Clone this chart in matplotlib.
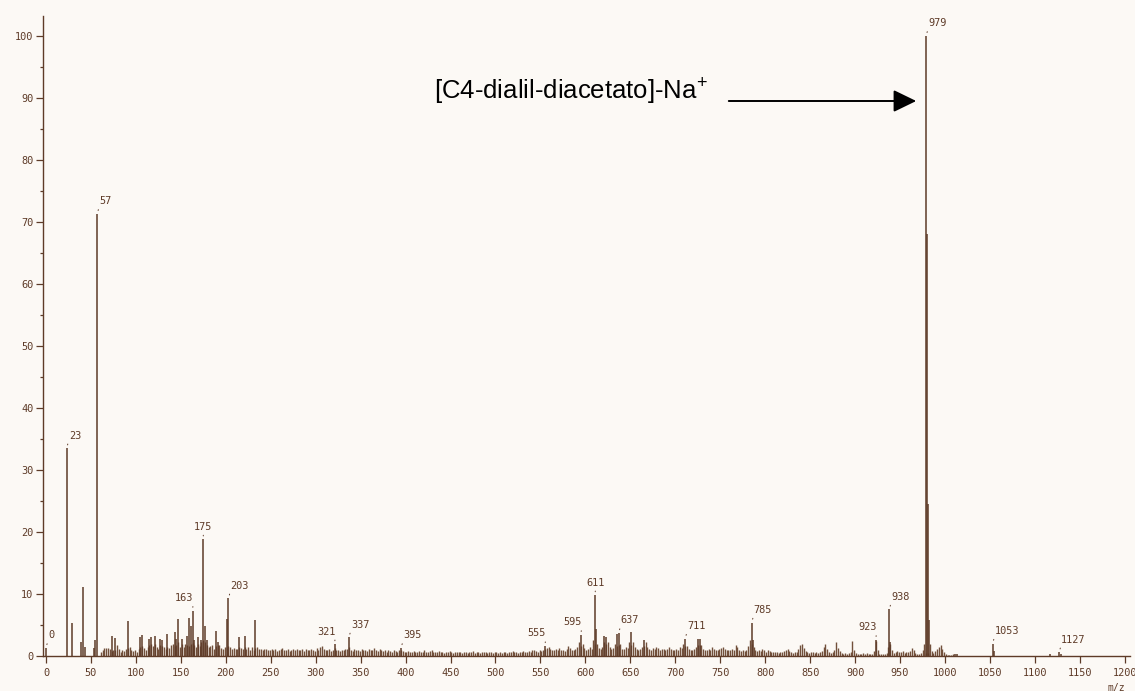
import matplotlib
matplotlib.use("Agg")
import matplotlib.pyplot as plt
import numpy as np
from matplotlib.patches import FancyArrowPatch

# ---------------- data ----------------
# main (labelled / prominent) peaks: m/z and relative intensity (%)
major_mz = [0, 23, 29, 39, 41, 43, 53, 55, 57, 73, 77, 91, 105, 107, 115, 117,
            121, 127, 129, 135, 143, 145, 147, 151, 157, 159, 161, 163, 165,
            169, 173, 175, 177, 179, 189, 191, 201, 203, 215, 221, 233, 321,
            337, 395, 555, 595, 611, 612, 621, 623, 635, 637, 651, 665, 711,
            725, 727, 785, 786, 923, 938, 939, 979, 980, 981, 982, 1011, 1013,
            1053, 1054, 1117, 1127, 1129]
major_int = [1.3, 33.5, 5.4, 2.2, 11.1, 1.5, 1.3, 2.6, 71.3, 3.3, 2.9, 5.6, 3.0,
             3.4, 2.8, 3.0, 3.3, 2.7, 2.5, 3.5, 3.8, 2.8, 5.9, 2.8, 3.3, 6.2,
             4.8, 7.3, 2.6, 3.0, 2.5, 18.8, 4.8, 2.6, 4.0, 2.3, 5.9, 9.3, 3.1,
             3.2, 5.8, 1.9, 3.0, 1.3, 1.6, 3.4, 9.8, 4.3, 3.3, 3.0, 3.6, 3.7,
             3.9, 2.6, 2.8, 2.7, 2.8, 5.4, 2.5, 2.6, 7.5, 2.2, 100.0, 68.0,
             24.5, 5.8, 0.3, 0.3, 2.0, 0.8, 0.3, 0.6, 0.3]

# background (noise-floor) peaks at odd m/z 61 .. 1009, read in blocks of 50 u
floor_61_109 = [0.6, 0.9, 1.3, 1.3, 1.3, 1.2, 0.8, 1.0, 0.9, 1.7, 1.2, 0.7, 1.0,
                0.8, 1.1, 1.3, 1.5, 1.0, 0.8, 0.9, 0.7, 1.2, 1.4, 1.6, 1.3]
floor_111_159 = [0.9, 1.5, 1.8, 2.0, 1.6, 1.9, 1.4, 1.2, 1.8, 1.6, 1.4, 1.2, 1.5,
                 1.3, 1.7, 2.0, 1.6, 1.8, 2.2, 1.5, 1.9, 1.4, 2.0, 1.8, 1.6]
floor_161_209 = [1.9, 2.1, 1.7, 1.5, 2.0, 1.6, 2.2, 2.5, 2.3, 1.8, 1.5, 1.6, 1.7,
                 1.2, 1.6, 1.8, 1.7, 1.3, 1.2, 1.4, 1.5, 1.6, 1.4, 1.2, 1.3]
floor_211_259 = [1.1, 1.2, 1.5, 1.3, 1.2, 1.4, 1.2, 1.4, 1.0, 1.5, 1.0, 1.3, 1.4,
                 1.1, 1.2, 0.9, 1.1, 1.2, 0.9, 1.0, 1.1, 0.9, 1.2, 0.8, 1.0]
floor_261_309 = [1.1, 1.3, 0.9, 1.0, 1.2, 0.8, 1.0, 1.1, 0.9, 1.2, 1.0, 0.9, 1.1,
                 0.8, 1.2, 1.0, 0.9, 1.1, 1.0, 0.8, 1.3, 0.9, 1.4, 1.6, 1.2]
floor_311_359 = [1.0, 0.9, 1.1, 0.8, 1.0, 1.3, 1.0, 0.9, 0.8, 1.0, 0.9, 1.1, 1.2,
                 1.4, 1.0, 0.8, 1.1, 0.9, 1.0, 0.8, 1.2, 0.9, 1.0, 0.8, 1.1]
floor_361_409 = [0.9, 1.0, 1.3, 1.0, 0.8, 1.2, 0.9, 0.8, 0.9, 0.7, 1.0, 0.8, 0.7,
                 0.9, 0.8, 0.7, 0.9, 1.0, 0.8, 0.7, 0.6, 0.8, 0.7, 0.6, 0.8]
floor_411_459 = [0.6, 0.7, 0.8, 0.6, 0.7, 0.9, 0.7, 0.6, 0.8, 0.9, 0.7, 0.6, 0.7,
                 0.8, 0.6, 0.7, 0.5, 0.7, 0.6, 0.8, 0.6, 0.5, 0.7, 0.6, 0.7]
floor_461_509 = [0.6, 0.5, 0.7, 0.6, 0.5, 0.7, 0.6, 0.8, 0.5, 0.6, 0.7, 0.5, 0.6,
                 0.7, 0.6, 0.5, 0.7, 0.6, 0.5, 0.6, 0.7, 0.5, 0.6, 0.5, 0.7]
floor_511_559 = [0.6, 0.5, 0.7, 0.6, 0.8, 0.6, 0.7, 0.5, 0.7, 0.6, 0.8, 0.7, 0.6,
                 0.8, 0.7, 1.0, 0.9, 0.8, 0.7, 0.9, 0.8, 1.0, 1.1, 1.3, 1.5]
floor_561_609 = [1.1, 0.9, 1.0, 1.2, 1.0, 1.3, 0.9, 1.0, 0.8, 1.1, 1.6, 1.3, 1.0,
                 0.9, 1.2, 1.5, 2.2, 1.6, 2.0, 1.3, 1.0, 1.1, 1.5, 1.2, 2.5]
floor_611_659 = [2.0, 2.0, 1.3, 1.1, 1.4, 2.2, 2.0, 2.2, 1.5, 1.2, 1.3, 2.0, 1.6,
                 1.8, 2.0, 1.2, 1.1, 1.5, 1.3, 2.3, 1.8, 2.3, 1.5, 1.2, 1.0]
floor_661_709 = [1.1, 1.4, 1.6, 2.3, 1.4, 1.2, 1.0, 1.3, 1.1, 1.5, 1.3, 1.0, 1.2,
                 1.1, 0.9, 1.1, 1.5, 1.2, 1.0, 0.9, 1.1, 1.0, 1.5, 1.3, 2.0]
floor_711_759 = [1.6, 1.6, 1.1, 1.0, 0.9, 1.2, 1.5, 1.8, 1.7, 1.7, 1.2, 1.0, 0.9,
                 1.1, 1.0, 1.5, 1.1, 0.9, 1.0, 1.2, 1.3, 1.5, 1.1, 0.9, 1.0]
floor_761_809 = [0.9, 1.2, 1.0, 1.7, 1.4, 1.0, 0.8, 0.9, 0.8, 1.0, 1.6, 2.5, 2.0,
                 1.5, 1.0, 0.8, 0.9, 0.8, 1.2, 1.0, 0.7, 0.9, 0.8, 0.6, 0.7]
floor_811_859 = [0.6, 0.7, 0.5, 0.6, 0.7, 0.8, 1.0, 1.1, 0.8, 0.6, 0.5, 0.6, 0.7,
                 1.2, 1.8, 2.0, 1.3, 0.8, 0.6, 0.5, 0.6, 0.7, 0.5, 0.6, 0.5]
floor_861_909 = [0.6, 0.8, 1.5, 2.0, 1.2, 0.7, 0.5, 0.6, 1.0, 2.2, 1.3, 0.8, 0.5,
                 0.4, 0.5, 0.4, 0.5, 0.6, 2.4, 1.0, 0.5, 0.4, 0.3, 0.4, 0.5]
floor_911_959 = [0.4, 0.5, 0.3, 0.4, 0.3, 0.8, 2.4, 0.9, 0.4, 0.3, 0.3, 0.4, 0.5,
                 1.5, 2.0, 1.0, 0.5, 0.6, 0.8, 0.7, 0.6, 0.8, 0.5, 0.6, 0.7]
floor_961_1009 = [0.8, 1.3, 0.9, 0.5, 0.4, 0.3, 0.5, 1.0, 2.0, 0.5, 0.5, 2.0, 0.8,
                  0.5, 0.8, 1.2, 1.5, 1.8, 1.2, 0.6, 0.3, 0.2, 0.2, 0.2, 0.3]

floor_int = (floor_61_109 + floor_111_159 + floor_161_209 + floor_211_259 +
             floor_261_309 + floor_311_359 + floor_361_409 + floor_411_459 +
             floor_461_509 + floor_511_559 + floor_561_609 + floor_611_659 +
             floor_661_709 + floor_711_759 + floor_761_809 + floor_811_859 +
             floor_861_909 + floor_911_959 + floor_961_1009)
floor_mz = list(range(61, 1010, 2))

# peak labels: text, m/z, intensity
label_text = ["0", "23", "57", "163", "175", "203", "321", "337", "395", "555",
              "595", "611", "637", "711", "785", "923", "938", "979", "1053", "1127"]
label_mz = [0, 23, 57, 163, 175, 203, 321, 337, 395, 555,
            595, 611, 637, 711, 785, 923, 938, 979, 1053, 1127]
label_int = [1.3, 33.5, 71.3, 7.3, 18.8, 9.3, 1.9, 3.0, 1.3, 1.6,
             3.4, 9.8, 3.7, 2.8, 5.4, 2.6, 7.5, 100.0, 2.0, 0.6]
label_side = ["r", "r", "r", "l", "c", "r", "l", "r", "r", "l",
              "l", "c", "r", "r", "r", "l", "r", "r", "r", "r"]

x_ticks = list(range(0, 1201, 50))
y_ticks = list(range(0, 101, 10))
annotation = "[C4-dialil-diacetato]-Na$^{+}$"

# ---------------- style ----------------
BG = "#fcf9f5"
INK = "#5e3b28"
INK_FLOOR = "#72503b"
MONO = "DejaVu Sans Mono"
plt.rcParams["mathtext.fontset"] = "custom"
plt.rcParams["mathtext.rm"] = "Liberation Sans"

W, H = 1135, 691
fig = plt.figure(figsize=(W / 100, H / 100), dpi=100, facecolor=BG)
ax = fig.add_axes([43 / W, 35 / H, 1087.2 / W, 640 / H])
ax.set_facecolor(BG)
ax.set_xlim(-3.3, 1206)
ax.set_ylim(0, 103.2)

ax.vlines(floor_mz, 0, floor_int, color=INK_FLOOR, lw=1.0)
ax.vlines(major_mz, 0, major_int, color=INK, lw=1.1)

for s in ["top", "right"]:
    ax.spines[s].set_visible(False)
for s in ["left", "bottom"]:
    ax.spines[s].set_color(INK)
    ax.spines[s].set_linewidth(1.0)

ax.set_xticks(x_ticks)
ax.set_xticklabels([str(v) for v in x_ticks])
ax.set_yticks(y_ticks)
ax.set_yticklabels([str(v) for v in y_ticks])
ax.set_yticks(list(range(5, 101, 10)), minor=True)
ax.tick_params(axis="x", direction="out", length=5, width=0.9, pad=3.5,
               colors=INK, labelsize=7.4)
ax.tick_params(axis="y", which="major", direction="out", length=5, width=0.9,
               pad=2, colors=INK, labelsize=7.4)
ax.tick_params(axis="y", which="minor", direction="out", length=2.5, width=0.9,
               colors=INK)
for lab in ax.get_xticklabels() + ax.get_yticklabels():
    lab.set_fontfamily(MONO)

for t, mz, h, side in zip(label_text, label_mz, label_int, label_side):
    if side == "r":
        off, ha, rp = (1.5, 5.5), "left", (0.0, 0.0)
    elif side == "l":
        off, ha, rp = (0.5, 5.5), "right", (1.0, 0.0)
    else:
        off, ha, rp = (0.0, 5.5), "center", (0.5, 0.0)
    ax.annotate(t, xy=(mz, h), xytext=off, textcoords="offset points",
                ha=ha, va="bottom", fontsize=7.4, family=MONO, color=INK,
                arrowprops=dict(arrowstyle="-", color=INK, lw=0.7,
                                shrinkA=0.5, shrinkB=2.5, relpos=rp))

fig.text(1108 / W, 1 - 688 / H, "m/z", fontsize=7, family=MONO, color=INK,
         va="center", ha="left")

fig.text(433.5 / W, 1 - 99 / H, annotation, fontsize=18.5,
         family="Liberation Sans", color="black", va="baseline", ha="left")
arrow = FancyArrowPatch((726 / W, 1 - 101 / H), (919 / W, 1 - 101 / H),
                        transform=fig.transFigure,
                        arrowstyle="-|>,head_length=14,head_width=6.8",
                        mutation_scale=1, color="black", lw=1.4)
fig.add_artist(arrow)

fig.savefig("out.png", dpi=100, facecolor=BG)
